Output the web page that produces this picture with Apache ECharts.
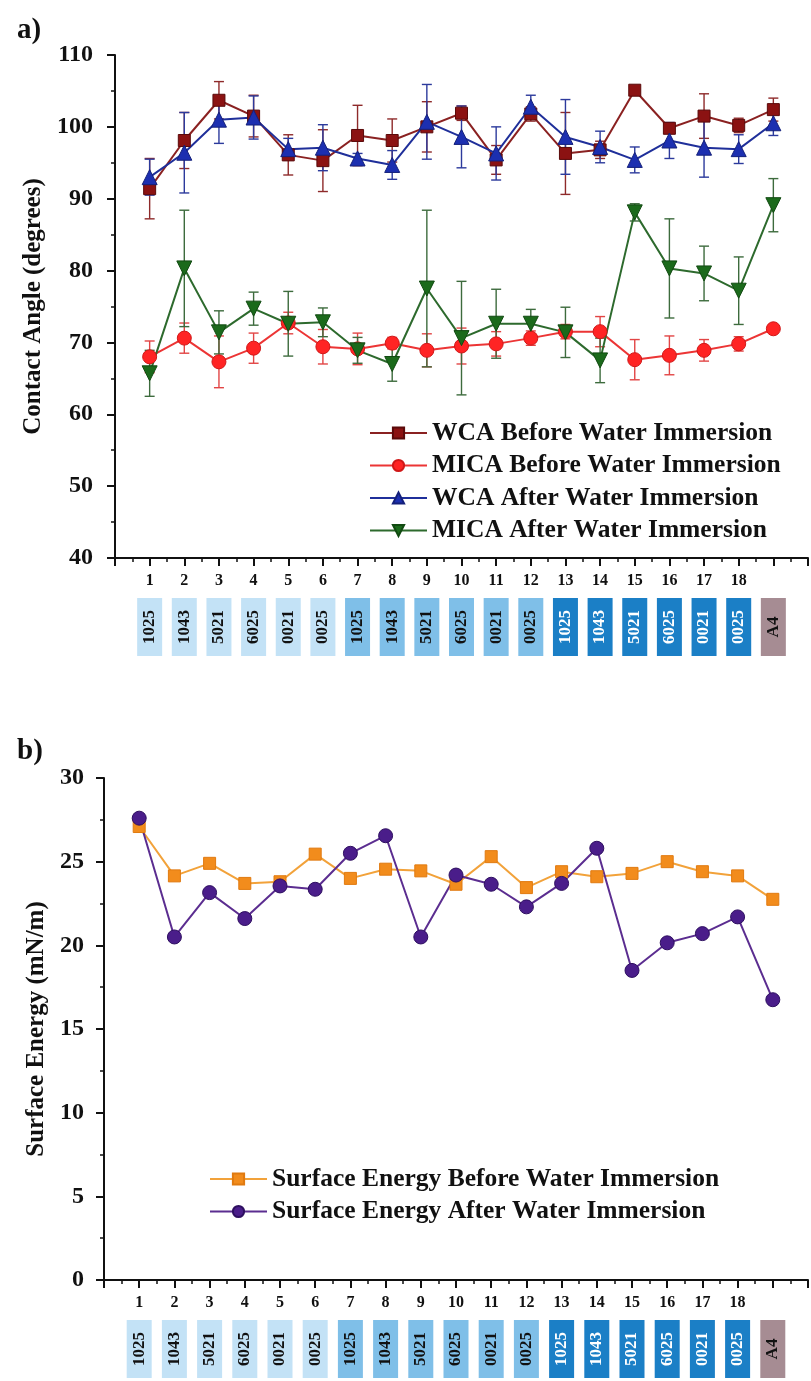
<!DOCTYPE html>
<html>
<head>
<meta charset="utf-8">
<script src="https://cdn.jsdelivr.net/npm/echarts@6/dist/echarts.min.js"></script>
<style>
  html, body { margin: 0; padding: 0; background: #ffffff; }
  #chart { width: 811px; height: 1381px; }
</style>
</head>
<body>
<div id="chart"></div>
<script>
// Sample positions 1..19 (19 = reference A4 paper)
const samples = [1, 2, 3, 4, 5, 6, 7, 8, 9, 10, 11, 12, 13, 14, 15, 16, 17, 18, 19];
const tickLabels = ['1', '2', '3', '4', '5', '6', '7', '8', '9', '10', '11', '12', '13', '14', '15', '16', '17', '18', ''];
const pigmentCodes = ['1025', '1043', '5021', '6025', '0021', '0025',
                      '1025', '1043', '5021', '6025', '0021', '0025',
                      '1025', '1043', '5021', '6025', '0021', '0025', 'A4'];
const sampleGroup = ['g1', 'g1', 'g1', 'g1', 'g1', 'g1',
                     'g2', 'g2', 'g2', 'g2', 'g2', 'g2',
                     'g3', 'g3', 'g3', 'g3', 'g3', 'g3', 'ref'];

// a) contact angles (degrees) with standard deviations
const wcaBefore    = [91.4, 98.1, 103.7, 101.5, 96.1, 95.3, 98.8, 98.1, 100.0, 101.9, 95.4, 101.8, 96.3, 96.8, 105.1, 99.8, 101.5, 100.2, 102.4];
const wcaBeforeErr = [4.2, 3.9, 2.6, 2.9, 2.8, 4.3, 4.2, 3.0, 3.5, 1.0, 2.0, 1.0, 5.7, 1.2, 0.3, 0.5, 3.1, 1.0, 1.6];
const micaBefore    = [68.0, 70.6, 67.3, 69.2, 72.7, 69.4, 69.1, 69.9, 68.9, 69.5, 69.8, 70.6, 71.5, 71.5, 67.6, 68.2, 68.9, 69.8, 71.9];
const micaBeforeErr = [2.2, 2.1, 3.6, 2.1, 1.5, 2.4, 2.2, 0.8, 2.3, 2.5, 1.7, 1.0, 1.0, 2.1, 2.8, 2.7, 1.5, 1.0, 0];
const wcaAfter    = [93.0, 96.4, 101.0, 101.3, 96.9, 97.1, 95.6, 94.7, 100.7, 98.6, 96.3, 102.8, 98.6, 97.2, 95.4, 98.1, 97.1, 96.9, 100.5];
const wcaAfterErr = [2.5, 5.6, 3.3, 3.0, 1.5, 3.2, 0.7, 2.0, 5.2, 4.3, 3.7, 1.6, 5.2, 2.2, 1.8, 2.5, 4.1, 2.0, 1.7];
const micaAfter    = [65.7, 80.3, 71.4, 74.7, 72.6, 72.8, 68.9, 67.0, 77.5, 70.6, 72.6, 72.6, 71.4, 67.5, 88.1, 80.3, 79.6, 77.2, 89.1];
const micaAfterErr = [3.2, 8.1, 3.0, 2.3, 4.5, 2.0, 1.8, 2.4, 10.9, 7.9, 4.8, 2.0, 3.5, 3.1, 1.2, 6.9, 3.8, 4.7, 3.7];

// b) surface energy (mN/m)
const seBefore = [27.1, 24.15, 24.9, 23.7, 23.8, 25.45, 24.0, 24.55, 24.45, 23.65, 25.3, 23.45, 24.4, 24.1, 24.3, 25.0, 24.4, 24.15, 22.75];
const seAfter  = [27.6, 20.5, 23.15, 21.6, 23.55, 23.35, 25.5, 26.55, 20.5, 24.2, 23.65, 22.3, 23.7, 25.8, 18.5, 20.15, 20.7, 21.7, 16.75];

const FONT = "'Liberation Serif', 'Times New Roman', serif";
const DOWN_TRIANGLE = 'path://M0,0 L10,0 L5,9 Z';

const pairs = vals => vals.map((v, i) => [samples[i], v]);
const errTriples = (vals, errs) => vals.map((v, i) => [samples[i], v, errs[i]]);

function errorBarSeries(vals, errs, color, gridIdx) {
  return {
    type: 'custom',
    xAxisIndex: gridIdx, yAxisIndex: gridIdx,
    z: 1,
    silent: true,
    data: errTriples(vals, errs),
    renderItem: function (params, api) {
      const x = api.value(0), v = api.value(1), e = api.value(2);
      if (!e) return null;
      const hi = api.coord([x, v + e]);
      const lo = api.coord([x, v - e]);
      const cap = 5;
      const st = { stroke: color, lineWidth: 1.4 };
      return {
        type: 'group',
        children: [
          { type: 'line', shape: { x1: hi[0], y1: hi[1], x2: lo[0], y2: lo[1] }, style: st },
          { type: 'line', shape: { x1: hi[0] - cap, y1: hi[1], x2: hi[0] + cap, y2: hi[1] }, style: st },
          { type: 'line', shape: { x1: lo[0] - cap, y1: lo[1], x2: lo[0] + cap, y2: lo[1] }, style: st }
        ]
      };
    }
  };
}

function lineSeries(name, vals, lineColor, fill, border, symbol, size, gridIdx) {
  return {
    name: name,
    type: 'line',
    xAxisIndex: gridIdx, yAxisIndex: gridIdx,
    z: 3,
    data: pairs(vals),
    symbol: symbol,
    symbolSize: size,
    showAllSymbol: true,
    lineStyle: { color: lineColor, width: 2 },
    itemStyle: { color: fill, borderColor: border, borderWidth: 1 },
    emphasis: { disabled: true }
  };
}

const boxRich = {
  g1:  { backgroundColor: '#c3e2f6', color: '#111111' },
  g2:  { backgroundColor: '#7fbfe8', color: '#111111' },
  g3:  { backgroundColor: '#1b7fc6', color: '#ffffff' },
  ref: { backgroundColor: '#a68c93', color: '#111111' }
};
Object.keys(boxRich).forEach(k => Object.assign(boxRich[k], {
  width: 58, height: 25, lineHeight: 25, align: 'center', verticalAlign: 'middle',
  fontSize: 17, fontWeight: 'bold', fontFamily: FONT
}));

function sampleXAxis(gridIdx) {
  return {
    type: 'value', gridIndex: gridIdx, min: 0, max: 20, interval: 1,
    axisLine: { show: true, onZero: false, lineStyle: { color: '#111', width: 2 } },
    axisTick: { show: true, length: 8, lineStyle: { color: '#111', width: 2 } },
    minorTick: { show: true, splitNumber: 2, length: 4, lineStyle: { color: '#111', width: 1.5 } },
    splitLine: { show: false },
    axisLabel: {
      margin: 15, fontSize: 16, fontWeight: 'bold', fontFamily: FONT, color: '#111',
      formatter: v => (v >= 1 && v <= samples.length) ? tickLabels[v - 1] : ''
    }
  };
}

function codeXAxis(gridIdx) {
  return {
    type: 'value', gridIndex: gridIdx, min: 0, max: 20, interval: 1, position: 'bottom',
    axisLine: { show: false }, axisTick: { show: false }, splitLine: { show: false },
    axisLabel: {
      margin: 40, rotate: 90, rich: boxRich,
      formatter: v => (v >= 1 && v <= samples.length)
        ? '{' + sampleGroup[v - 1] + '|' + pigmentCodes[v - 1] + '}' : ''
    }
  };
}

function valueYAxis(gridIdx, min, max, interval, name, nameGap, labelMargin) {
  return {
    type: 'value', gridIndex: gridIdx, min: min, max: max, interval: interval,
    name: name, nameLocation: 'middle', nameGap: nameGap, nameRotate: 90,
    nameTextStyle: { fontSize: 25, fontWeight: 'bold', fontFamily: FONT, color: '#111' },
    axisLine: { show: true, onZero: false, lineStyle: { color: '#111', width: 2 } },
    axisTick: { show: true, length: 8, lineStyle: { color: '#111', width: 2 } },
    minorTick: { show: true, splitNumber: 2, length: 4, lineStyle: { color: '#111', width: 1.5 } },
    splitLine: { show: false },
    axisLabel: { margin: labelMargin, fontSize: 24, fontWeight: 'bold', fontFamily: FONT, color: '#111' }
  };
}

const legendText = { fontSize: 25.5, fontWeight: 'bold', fontFamily: FONT, color: '#111' };

const option = {
  backgroundColor: '#ffffff',
  animation: false,
  grid: [
    { left: 115, right: 1, top: 55, height: 503 },
    { left: 104, right: 3, top: 778, height: 502 }
  ],
  xAxis: [sampleXAxis(0), sampleXAxis(1), codeXAxis(0), codeXAxis(1)],
  yAxis: [
    valueYAxis(0, 40, 110, 10, 'Contact Angle (degrees)', 66, 22),
    valueYAxis(1, 0, 30, 5, 'Surface Energy (mN/m)', 55, 20)
  ],
  legend: [
    {
      orient: 'vertical', left: 364, top: 415, itemWidth: 57, itemHeight: 14, itemGap: 6.5,
      textStyle: legendText, selectedMode: false,
      data: ['WCA Before Water Immersion', 'MICA Before Water Immersion',
             'WCA After Water Immersion', 'MICA After Water Immersion']
    },
    {
      orient: 'vertical', left: 204, top: 1161, itemWidth: 57, itemHeight: 14, itemGap: 6.5,
      textStyle: legendText, selectedMode: false,
      data: ['Surface Energy Before Water Immersion', 'Surface Energy After Water Immersion']
    }
  ],
  graphic: [
    { type: 'text', left: 17, top: 16, style: { text: 'a)', font: "bold 29px " + FONT, fill: '#111' } },
    { type: 'text', left: 17, top: 737, style: { text: 'b)', font: "bold 29px " + FONT, fill: '#111' } }
  ],
  series: [
    errorBarSeries(wcaBefore, wcaBeforeErr, '#8e2a2a', 0),
    errorBarSeries(micaBefore, micaBeforeErr, '#e24545', 0),
    errorBarSeries(wcaAfter, wcaAfterErr, '#2c3a9c', 0),
    errorBarSeries(micaAfter, micaAfterErr, '#3d6b3d', 0),
    lineSeries('WCA Before Water Immersion', wcaBefore, '#8a2121', '#8b1212', '#5a0a0a', 'rect', 12, 0),
    lineSeries('MICA Before Water Immersion', micaBefore, '#ec3535', '#ff2424', '#d01818', 'circle', 14, 0),
    lineSeries('WCA After Water Immersion', wcaAfter, '#1f2f9a', '#1c2fb0', '#14207a', 'triangle', 15, 0),
    lineSeries('MICA After Water Immersion', micaAfter, '#2d6a2d', '#1b6a1b', '#114a11', DOWN_TRIANGLE, 15, 0),
    lineSeries('Surface Energy Before Water Immersion', seBefore, '#f2a23a', '#f28c1c', '#e07a10', 'rect', 12, 1),
    lineSeries('Surface Energy After Water Immersion', seAfter, '#5b2d90', '#4a1d8a', '#2e0f60', 'circle', 14, 1)
  ]
};

const chart = echarts.init(document.getElementById('chart'), null, { renderer: 'canvas' });
chart.setOption(option);
</script>
</body>
</html>
